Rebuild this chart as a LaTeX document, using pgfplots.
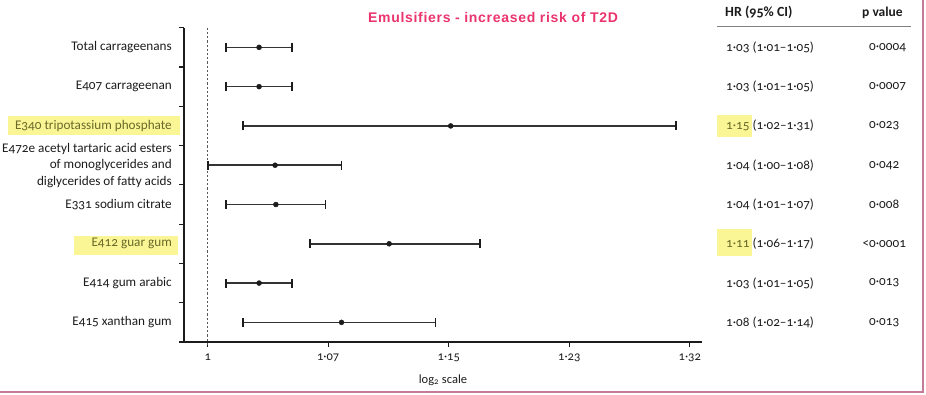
\documentclass[border=0pt]{standalone}
\usepackage{fontspec}
\setmainfont{Carlito}[Numbers=OldStyle]
\newfontfamily\titlefont[LetterSpace=5]{Liberation Sans}
\usepackage{pgfplots}
\usepackage{pgfplotstable}
\pgfplotsset{compat=1.18}
\definecolor{txt}{RGB}{28,28,28}
\definecolor{hl}{RGB}{250,246,150}
\definecolor{hltxt}{RGB}{105,105,40}
\definecolor{ttl}{RGB}{235,52,110}
\definecolor{frame}{RGB}{196,123,153}
\pgfplotstableread{
row hr lo hi
1 1.030 1.0106 1.0497
2 1.030 1.0106 1.0497
3 1.150 1.0205 1.3090
4 1.0395 1.0000 1.0800
5 1.040 1.0106 1.0700
6 1.110 1.0606 1.1696
7 1.030 1.0106 1.0497
8 1.080 1.0205 1.1400
}\hrdata
\begin{document}
\begin{tikzpicture}
\path[use as bounding box] (0,0) rectangle (926pt,-394pt);
% frame lines
\draw[frame, line width=1.5pt] (923pt,0pt) -- (923pt,-392pt);
\draw[frame, line width=1.5pt] (0pt,-392pt) -- (923.75pt,-392pt);
% highlights
\fill[hl] (8pt,-116pt) rectangle (180pt,-135pt);
\fill[hl] (74pt,-236pt) rectangle (178pt,-255pt);
\fill[hl] (717pt,-115pt) rectangle (752pt,-137pt);
\fill[hl] (717pt,-229pt) rectangle (752pt,-256pt);
\begin{axis}[
  at={(184pt,-342pt)}, anchor=south west,
  scale only axis, width=518pt, height=314.3pt,
  xmode=log, log basis x=2,
  xmin=0.98646, xmax=1.32888,
  ymin=0.5, ymax=8.5, y dir=reverse,
  axis x line*=bottom, axis y line*=left,
  axis line style={-, line width=1.1pt, color=txt},
  xtick={1,1.07177,1.14870,1.23114,1.31951},
  xticklabels={1,1·07,1·15,1·23,1·32},
  ytick={0.5,1.5,...,8.5}, yticklabels={},
  tick align=outside, major tick length=5pt,
  tick style={line width=1.1pt, color=txt},
  xticklabel style={font=\fontsize{12.5}{12.5}\selectfont, text=txt, yshift=-3pt},
  xlabel={log\textsubscript{2} scale},
  xlabel style={font=\fontsize{12.5}{12.5}\selectfont, text=txt, yshift=-6pt},
  clip=false,
]
\draw[black!65, line width=1.2pt, dash pattern=on 2.2pt off 2pt] (axis cs:1,0.5) -- (axis cs:1,8.6);
\addplot[only marks, mark=*, mark size=2.5pt, color=txt,
  error bars/.cd, x dir=both, x explicit,
  error bar style={line width=1.5pt, color=txt!90},
  error mark options={rotate=90, mark size=4.5pt, line width=1.5pt, color=txt}]
  table[x=hr, y=row, x error plus expr=\thisrow{hi}-\thisrow{hr}, x error minus expr=\thisrow{hr}-\thisrow{lo}] {\hrdata};
\end{axis}
% title
\node[text=ttl, font=\titlefont\bfseries\fontsize{14}{14}\selectfont] at (493pt,-17pt) {Emulsifiers - increased risk of T2D};
% row labels
\begin{scope}[every node/.style={anchor=east, text=txt, font=\fontsize{13.2}{16.5}\selectfont, inner sep=0pt}]
\node at (172pt,-47.35pt) {Total carrageenans};
\node at (172pt,-86.65pt) {E407 carrageenan};
\node[text=hltxt] at (172pt,-125.95pt) {E340 tripotassium phosphate};
\node[align=right] at (172pt,-165.25pt) {E472e acetyl tartaric acid esters\\of monoglycerides and\\diglycerides of fatty acids};
\node at (172pt,-204.55pt) {E331 sodium citrate};
\node[text=hltxt] at (172pt,-243.85pt) {E412 guar gum};
\node at (172pt,-283.15pt) {E414 gum arabic};
\node at (172pt,-322.45pt) {E415 xanthan gum};
\end{scope}
% table header
\node[anchor=west, inner sep=0pt, text=txt, font=\bfseries\fontsize{14}{14}\selectfont] at (725pt,-12.5pt) {HR (95\% CI)};
\node[anchor=west, inner sep=0pt, text=txt, font=\bfseries\fontsize{13.5}{13.5}\selectfont] at (862pt,-12.5pt) {p value};
\draw[gray, line width=1pt] (717pt,-26.7pt) -- (911pt,-26.7pt);
\begin{scope}[every node/.style={anchor=west, text=txt, font=\fontsize{13.2}{13.2}\selectfont, inner sep=0pt}]
\node at (726pt,-47.35pt) {1·03 (1·01–1·05)};
\node at (726pt,-86.65pt) {1·03 (1·01–1·05)};
\node at (726pt,-125.95pt) {\textcolor{hltxt}{1·15} (1·02–1·31)};
\node at (726pt,-165.25pt) {1·04 (1·00–1·08)};
\node at (726pt,-204.55pt) {1·04 (1·01–1·07)};
\node at (726pt,-243.85pt) {\textcolor{hltxt}{1·11} (1·06–1·17)};
\node at (726pt,-283.15pt) {1·03 (1·01–1·05)};
\node at (726pt,-322.45pt) {1·08 (1·02–1·14)};
\node at (869pt,-47.35pt) {0·0004};
\node at (869pt,-86.65pt) {0·0007};
\node at (869pt,-125.95pt) {0·023};
\node at (869pt,-165.25pt) {0·042};
\node at (869pt,-204.55pt) {0·008};
\node at (869pt,-243.85pt) {\llap{<}0·0001};
\node at (869pt,-283.15pt) {0·013};
\node at (869pt,-322.45pt) {0·013};
\end{scope}
\end{tikzpicture}
\end{document}
